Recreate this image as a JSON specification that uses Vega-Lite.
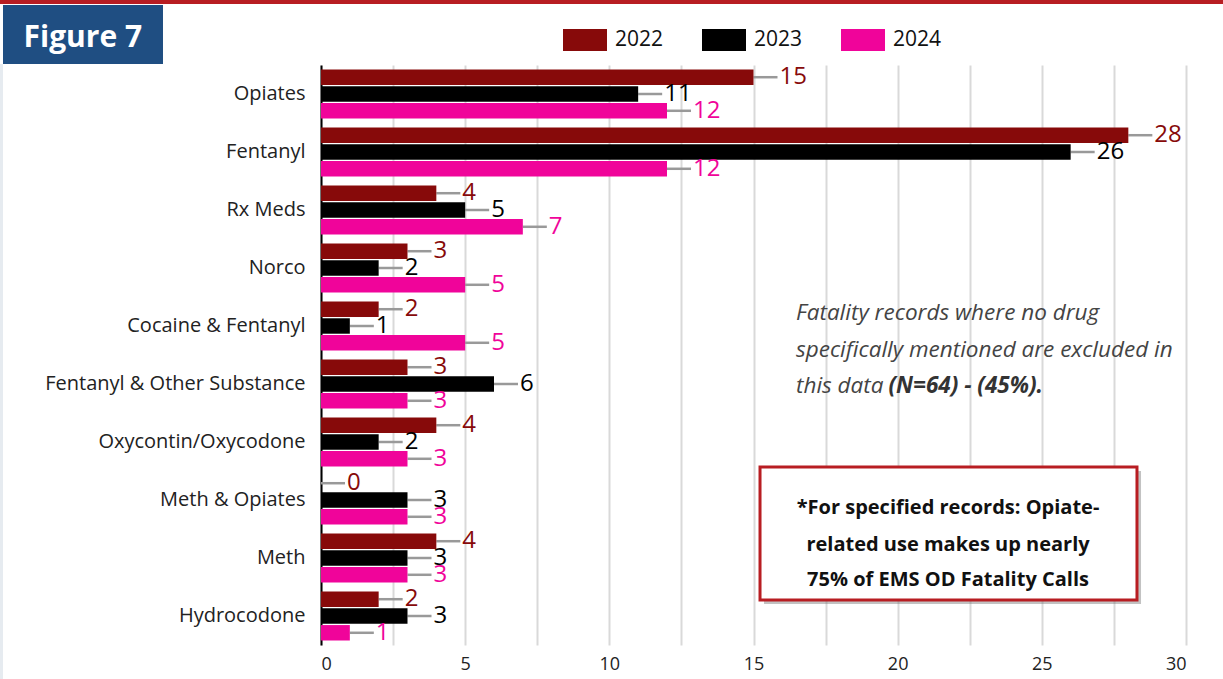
{
  "$schema": "https://vega.github.io/schema/vega-lite/v6.json",
  "width": 865,
  "height": 580,
  "autosize": {"type": "none"},
  "padding": {"left": 321, "top": 65, "right": 37, "bottom": 34},
  "background": "white",
  "config": {"font": "Open Sans", "view": {"stroke": null}},
  "datasets": {
    "drugs": [
      {"drug": "Opiates", "year": "2022", "value": 15},
      {"drug": "Opiates", "year": "2023", "value": 11},
      {"drug": "Opiates", "year": "2024", "value": 12},
      {"drug": "Fentanyl", "year": "2022", "value": 28},
      {"drug": "Fentanyl", "year": "2023", "value": 26},
      {"drug": "Fentanyl", "year": "2024", "value": 12},
      {"drug": "Rx Meds", "year": "2022", "value": 4},
      {"drug": "Rx Meds", "year": "2023", "value": 5},
      {"drug": "Rx Meds", "year": "2024", "value": 7},
      {"drug": "Norco", "year": "2022", "value": 3},
      {"drug": "Norco", "year": "2023", "value": 2},
      {"drug": "Norco", "year": "2024", "value": 5},
      {"drug": "Cocaine & Fentanyl", "year": "2022", "value": 2},
      {"drug": "Cocaine & Fentanyl", "year": "2023", "value": 1},
      {"drug": "Cocaine & Fentanyl", "year": "2024", "value": 5},
      {"drug": "Fentanyl & Other Substance", "year": "2022", "value": 3},
      {"drug": "Fentanyl & Other Substance", "year": "2023", "value": 6},
      {"drug": "Fentanyl & Other Substance", "year": "2024", "value": 3},
      {"drug": "Oxycontin/Oxycodone", "year": "2022", "value": 4},
      {"drug": "Oxycontin/Oxycodone", "year": "2023", "value": 2},
      {"drug": "Oxycontin/Oxycodone", "year": "2024", "value": 3},
      {"drug": "Meth & Opiates", "year": "2022", "value": 0},
      {"drug": "Meth & Opiates", "year": "2023", "value": 3},
      {"drug": "Meth & Opiates", "year": "2024", "value": 3},
      {"drug": "Meth", "year": "2022", "value": 4},
      {"drug": "Meth", "year": "2023", "value": 3},
      {"drug": "Meth", "year": "2024", "value": 3},
      {"drug": "Hydrocodone", "year": "2022", "value": 2},
      {"drug": "Hydrocodone", "year": "2023", "value": 3},
      {"drug": "Hydrocodone", "year": "2024", "value": 1}
    ]
  },
  "layer": [
    {
      "data": {"name": "drugs"},
      "encoding": {
        "y": {
          "field": "drug", "type": "nominal",
          "sort": ["Opiates", "Fentanyl", "Rx Meds", "Norco", "Cocaine & Fentanyl", "Fentanyl & Other Substance", "Oxycontin/Oxycodone", "Meth & Opiates", "Meth", "Hydrocodone"],
          "scale": {"paddingInner": 0.155, "paddingOuter": 0.0775},
          "axis": {"title": null, "labelFontSize": 20, "labelColor": "#222222", "labelPadding": 16, "ticks": false, "domainColor": "#000000", "domainWidth": 2, "labelLimit": 400}
        },
        "yOffset": {"field": "year", "type": "nominal", "sort": ["2022", "2023", "2024"], "scale": {"paddingInner": 0.08}},
        "x": {
          "field": "value", "type": "quantitative",
          "scale": {"domain": [0, 30], "nice": false},
          "axis": {"title": null, "values": [0, 2.5, 5, 7.5, 10, 12.5, 15, 17.5, 20, 22.5, 25, 27.5, 30], "labelExpr": "datum.value % 5 === 0 ? format(datum.value, 'd') : ''", "grid": true, "gridColor": "#D9D9D9", "gridWidth": 2, "domain": false, "ticks": false, "labelFontSize": 18, "labelColor": "#222222", "labelPadding": 10}
        }
      },
      "layer": [
        {
          "mark": {"type": "rule", "color": "#999999", "strokeWidth": 2.5, "x2Offset": 24},
          "encoding": {"x2": {"field": "value"}}
        },
        {
          "mark": {"type": "bar"},
          "encoding": {
            "color": {
              "field": "year", "type": "nominal",
              "scale": {"domain": ["2022", "2023", "2024"], "range": ["#870A0A", "#000000", "#F0049A"]},
              "legend": {"title": null, "orient": "none", "legendX": 242, "legendY": -47, "direction": "horizontal", "symbolType": "M-1,-0.5H1V0.5H-1Z", "symbolSize": 1936, "symbolStrokeWidth": 0, "labelFontSize": 21, "labelColor": "#111111", "columnPadding": 38, "labelOffset": 8, "padding": 0}
            }
          }
        },
        {
          "mark": {"type": "text", "align": "left", "baseline": "middle", "dx": 26, "fontSize": 24},
          "encoding": {
            "text": {"field": "value", "type": "quantitative"},
            "color": {"field": "year", "type": "nominal"}
          }
        }
      ]
    },
    {
      "data": {"values": [
        {"x": -11.133, "x2": 31.283, "y": -1.1207, "y2": -1.0517}
      ]},
      "mark": {"type": "rect", "color": "#B81D22"},
      "encoding": {
        "x": {"field": "x", "type": "quantitative"},
        "x2": {"field": "x2"},
        "y": {"field": "y", "type": "quantitative", "scale": {"domain": [0, 10], "reverse": true, "nice": false, "zero": false}, "axis": null},
        "y2": {"field": "y2"}
      }
    },
    {
      "data": {"values": [
        {"x": -11.029, "x2": -5.48, "y": -1.0345, "y2": -0.0172}
      ]},
      "mark": {"type": "rect", "color": "#1F4E82"},
      "encoding": {
        "x": {"field": "x", "type": "quantitative"},
        "x2": {"field": "x2"},
        "y": {"field": "y", "type": "quantitative", "scale": {"domain": [0, 10], "reverse": true, "nice": false, "zero": false}, "axis": null},
        "y2": {"field": "y2"}
      }
    },
    {
      "data": {"values": [
        {"x": -11.133, "x2": -11.029, "y": -0.0172, "y2": 10.586}
      ]},
      "mark": {"type": "rect", "color": "#E6EBF0"},
      "encoding": {
        "x": {"field": "x", "type": "quantitative"},
        "x2": {"field": "x2"},
        "y": {"field": "y", "type": "quantitative", "scale": {"domain": [0, 10], "reverse": true, "nice": false, "zero": false}, "axis": null},
        "y2": {"field": "y2"}
      }
    },
    {
      "data": {"values": [
        {"x": -8.26, "y": -0.466, "label": "Figure 7"}
      ]},
      "mark": {"type": "text", "color": "#FFFFFF", "fontWeight": "bold", "fontSize": 30, "align": "center", "baseline": "middle"},
      "encoding": {
        "x": {"field": "x", "type": "quantitative"},
        "y": {"field": "y", "type": "quantitative", "scale": {"domain": [0, 10], "reverse": true, "nice": false, "zero": false}, "axis": null},
        "text": {"field": "label"}
      }
    },
    {
      "data": {"values": [
        {"x": 15.365, "x2": 28.44, "y": 7.0, "y2": 9.293}
      ]},
      "mark": {"type": "rect", "color": "#777777", "opacity": 0.45},
      "encoding": {
        "x": {"field": "x", "type": "quantitative"},
        "x2": {"field": "x2"},
        "y": {"field": "y", "type": "quantitative", "scale": {"domain": [0, 10], "reverse": true, "nice": false, "zero": false}, "axis": null},
        "y2": {"field": "y2"}
      }
    },
    {
      "data": {"values": [
        {"x": 15.226, "x2": 28.3, "y": 6.931, "y2": 9.224}
      ]},
      "mark": {"type": "rect", "fill": "#FFFFFF", "stroke": "#B81D22", "strokeWidth": 3},
      "encoding": {
        "x": {"field": "x", "type": "quantitative"},
        "x2": {"field": "x2"},
        "y": {"field": "y", "type": "quantitative", "scale": {"domain": [0, 10], "reverse": true, "nice": false, "zero": false}, "axis": null},
        "y2": {"field": "y2"}
      }
    },
    {
      "data": {"values": [
        {"x": 21.746, "y": 7.638, "label": "*For specified records: Opiate-"},
        {"x": 21.746, "y": 8.276, "label": "related use makes up nearly"},
        {"x": 21.746, "y": 8.879, "label": "75% of EMS OD Fatality Calls"}
      ]},
      "mark": {"type": "text", "color": "#111111", "fontWeight": "bold", "fontSize": 20, "align": "center", "baseline": "middle"},
      "encoding": {
        "x": {"field": "x", "type": "quantitative"},
        "y": {"field": "y", "type": "quantitative", "scale": {"domain": [0, 10], "reverse": true, "nice": false, "zero": false}, "axis": null},
        "text": {"field": "label"}
      }
    },
    {
      "data": {"values": [
        {"x": 16.474, "y": 4.276, "label": "Fatality records where no drug"},
        {"x": 16.474, "y": 4.914, "label": "specifically mentioned are excluded in"},
        {"x": 16.474, "y": 5.534, "label": "this data"}
      ]},
      "mark": {"type": "text", "color": "#444444", "fontStyle": "italic", "fontSize": 22.5, "align": "left", "baseline": "middle"},
      "encoding": {
        "x": {"field": "x", "type": "quantitative"},
        "y": {"field": "y", "type": "quantitative", "scale": {"domain": [0, 10], "reverse": true, "nice": false, "zero": false}, "axis": null},
        "text": {"field": "label"}
      }
    },
    {
      "data": {"values": [
        {"x": 19.68, "y": 5.534, "label": "(N=64) - (45%)."}
      ]},
      "mark": {"type": "text", "color": "#333333", "fontStyle": "italic", "fontWeight": "bold", "fontSize": 22.5, "align": "left", "baseline": "middle"},
      "encoding": {
        "x": {"field": "x", "type": "quantitative"},
        "y": {"field": "y", "type": "quantitative", "scale": {"domain": [0, 10], "reverse": true, "nice": false, "zero": false}, "axis": null},
        "text": {"field": "label"}
      }
    }
  ],
  "resolve": {"scale": {"y": "independent"}}
}
